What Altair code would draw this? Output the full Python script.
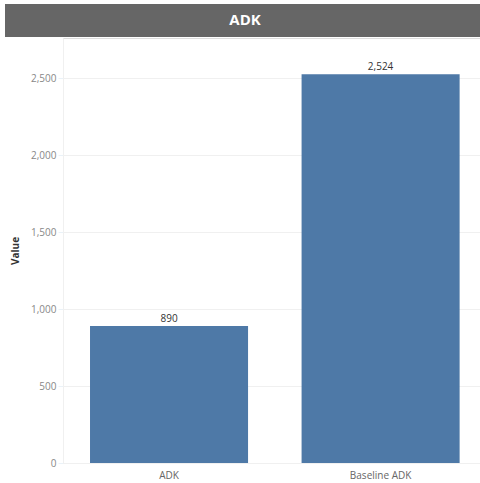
import altair as alt
import pandas as pd

categories = ["ADK", "Baseline ADK"]
values = [890, 2524]
title_text = ["ADK"]

df = pd.DataFrame({"Category": categories, "Value": values})

W, H = 417, 425
FONT = "Open Sans"

base = alt.Chart(df)

bars = base.mark_bar(color="#4e79a7").encode(
    x=alt.X(
        "Category:N",
        sort=categories,
        title=None,
        scale=alt.Scale(paddingInner=0.253, paddingOuter=0.112, align=0.57),
        axis=alt.Axis(
            labelAngle=0, labelColor="#666666", labelFont=FONT, labelFontSize=10,
            ticks=False, domain=False, labelPadding=7,
        ),
    ),
    y=alt.Y(
        "Value:Q",
        title="Value",
        scale=alt.Scale(domain=[0, 2760], nice=False),
        axis=alt.Axis(
            values=[0, 500, 1000, 1500, 2000, 2500], format=",d",
            labelColor="#888888", labelFont=FONT, labelFontSize=10,
            gridColor="#f0f0f0", tickColor="#eaf2f8", tickSize=5,
            domainColor="#f0f0f0", labelPadding=2,
            titleFont=FONT, titleFontSize=10, titleColor="#333333",
            titleFontWeight="bold", titlePadding=10,
        ),
    ),
)

labels = base.mark_text(
    dy=-7, color="#333333", font=FONT, fontSize=10
).encode(
    x=alt.X("Category:N", sort=categories),
    y="Value:Q",
    text=alt.Text("Value:Q", format=",d"),
)

header_df = pd.DataFrame({"t": title_text})
header_rect = alt.Chart(header_df).mark_rect(color="#666666").encode(
    x=alt.value(-58), x2=alt.value(W), y=alt.value(-34), y2=alt.value(-1)
)
header_text = alt.Chart(header_df).mark_text(
    color="white", font=FONT, fontSize=15, fontWeight="bold", baseline="middle"
).encode(x=alt.value(182), y=alt.value(-18), text="t:N")

chart = alt.layer(bars, labels, header_rect, header_text).properties(
    width=W,
    height=H,
    autosize=alt.AutoSizeParams(type="none"),
    padding={"left": 63, "top": 38, "right": 0, "bottom": 20},
).configure_view(stroke=None).configure(background="white")

chart.save("out.html", embed_options={"renderer": "svg", "actions": False})
